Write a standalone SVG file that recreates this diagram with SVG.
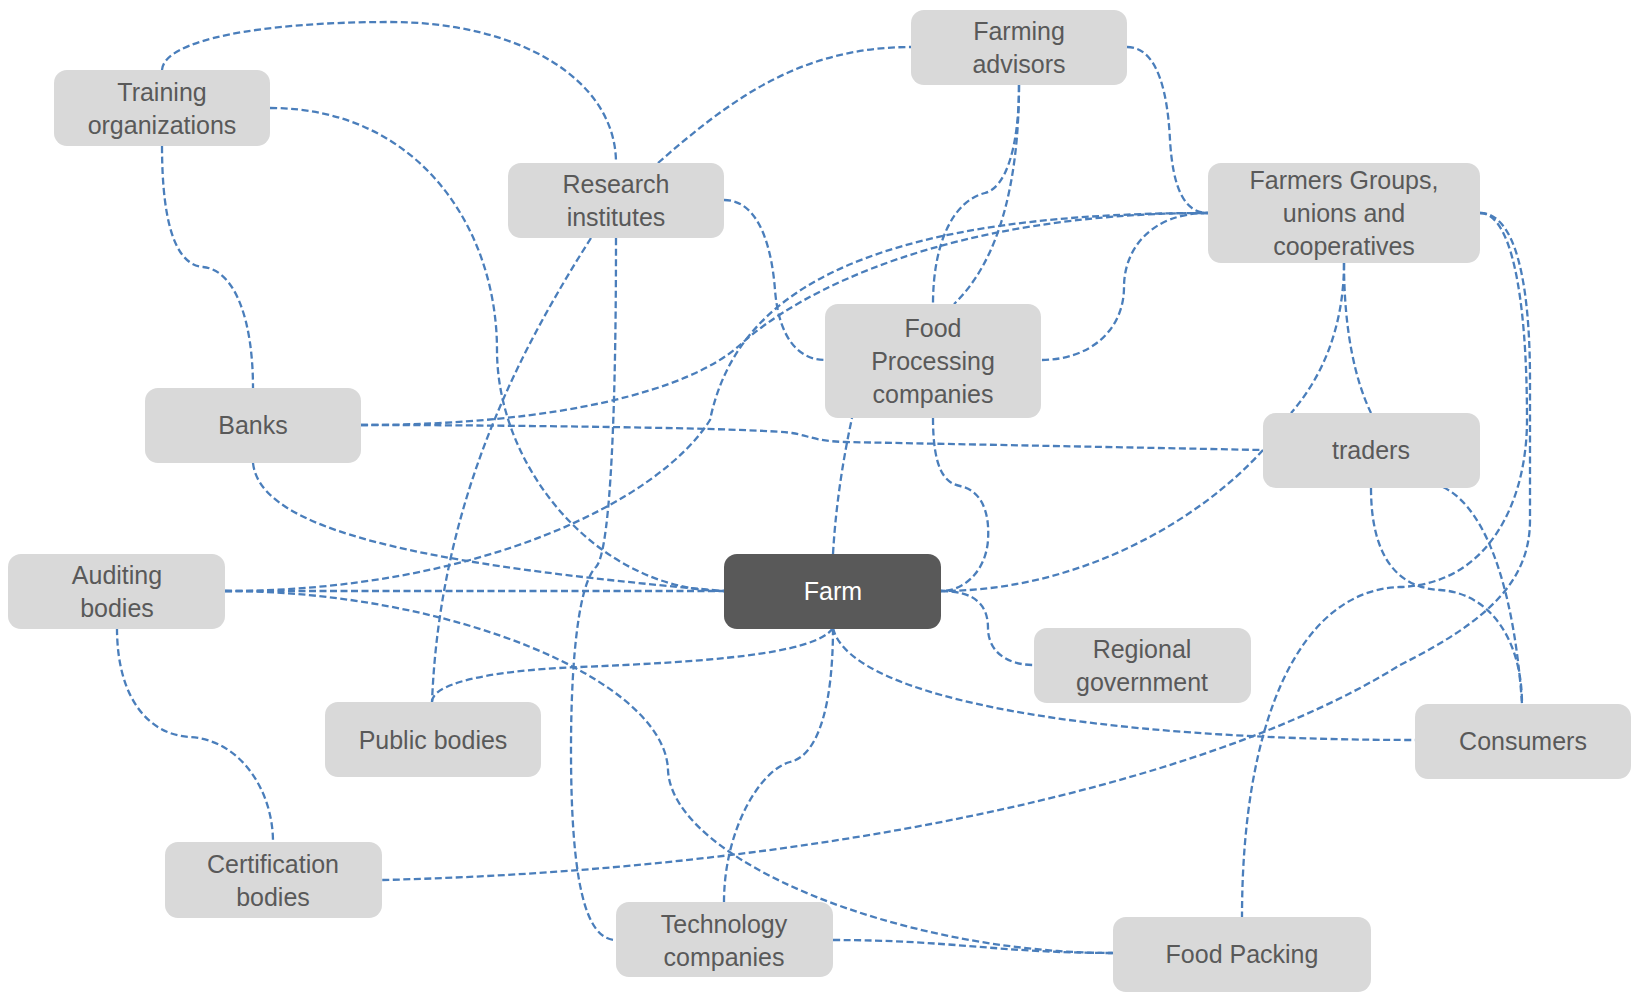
<svg xmlns="http://www.w3.org/2000/svg" width="1631" height="992" viewBox="0 0 1631 992">
<style>
.c{fill:none;stroke:#4a7ebb;stroke-width:2.3;stroke-dasharray:7 3.5}
.n rect{fill:#d9d9d9}
.n text{font-family:"Liberation Sans",Arial,sans-serif;font-size:25px;fill:#595959;text-anchor:middle}
#farm rect{fill:#595959}
#farm text{fill:#ffffff}
</style>
<rect width="1631" height="992" fill="#ffffff"/>
<g id="connectors">
<path class="c" d="M162,70 C164,40 260,22 390,22 C520,22 616,80 616,163"/>
<path class="c" d="M270,108 C420,108 497,230 497,350 C497,470 600,591 724,591"/>
<path class="c" d="M162,146 C162,230 178,265 203,267 C235,270 253,320 253,388"/>
<path class="c" d="M616,238 C616,450 608,555 596,567 C580,582 571,650 571,750 C571,880 585,940 616,940"/>
<path class="c" d="M591,238 C520,350 440,500 432,702"/>
<path class="c" d="M724,200 C760,200 772,250 775,290 C779,340 800,360 825,360"/>
<path class="c" d="M658,163 C730,100 800,47 911,47"/>
<path class="c" d="M1019,85 C1019,150 1005,188 985,193 C955,200 933,240 933,304"/>
<path class="c" d="M1019,85 C1019,180 1000,260 954,304"/>
<path class="c" d="M1127,47 C1160,47 1168,100 1170,140 C1173,190 1185,213 1208,213"/>
<path class="c" d="M361,425 C560,425 690,390 740,345 C800,290 950,213 1208,213"/>
<path class="c" d="M225,591 C480,591 660,500 710,420 C735,300 850,213 1208,213"/>
<path class="c" d="M1208,213 C1150,213 1124,250 1124,287 C1124,330 1090,360 1041,360"/>
<path class="c" d="M1344,263 C1344,330 1320,380 1291,413"/>
<path class="c" d="M1344,263 C1344,330 1355,380 1371,413"/>
<path class="c" d="M1480,213 C1510,213 1527,290 1527,420 C1527,500 1490,584 1400,587 C1300,590 1242,720 1242,917"/>
<path class="c" d="M1480,213 C1515,213 1530,280 1530,380 L1530,520 C1530,580 1490,620 1400,665 C1200,790 800,870 382,880"/>
<path class="c" d="M361,425 C500,425 760,428 792,433 C810,436 815,441 845,442 L1263,450"/>
<path class="c" d="M253,463 C260,530 420,565 724,591"/>
<path class="c" d="M225,591 L724,591"/>
<path class="c" d="M225,591 C450,591 665,680 668,770 C672,860 900,953 1113,953"/>
<path class="c" d="M117,628 C117,700 150,735 190,737 C240,740 273,790 273,842"/>
<path class="c" d="M833,554 C836,500 845,450 852,418"/>
<path class="c" d="M933,418 C933,470 945,483 960,486 C980,490 990,510 988,540 C986,570 965,591 941,591"/>
<path class="c" d="M1263,450 C1200,520 1080,591 941,591"/>
<path class="c" d="M941,591 C975,591 988,605 988,628 C988,650 1005,665 1034,665"/>
<path class="c" d="M833,628 C815,655 700,662 580,667 C480,671 432,685 432,702"/>
<path class="c" d="M833,628 C833,700 820,755 790,762 C760,770 724,830 724,902"/>
<path class="c" d="M833,628 C850,700 1100,740 1415,740"/>
<path class="c" d="M833,940 C950,940 1000,953 1113,953"/>
<path class="c" d="M1371,488 C1371,560 1400,588 1440,590 C1490,593 1522,640 1522,704"/>
<path class="c" d="M1443,487 C1490,510 1515,600 1522,704"/>
</g>
<g id="training" class="n"><rect x="54" y="70" width="216" height="76" rx="13"/><text x="162" y="101">Training</text><text x="162" y="134">organizations</text></g>
<g id="research" class="n"><rect x="508" y="163" width="216" height="75" rx="13"/><text x="616" y="193">Research</text><text x="616" y="226">institutes</text></g>
<g id="farming-advisors" class="n"><rect x="911" y="10" width="216" height="75" rx="13"/><text x="1019" y="40">Farming</text><text x="1019" y="73">advisors</text></g>
<g id="farmers-groups" class="n"><rect x="1208" y="163" width="272" height="100" rx="13"/><text x="1344" y="189">Farmers Groups,</text><text x="1344" y="222">unions and</text><text x="1344" y="255">cooperatives</text></g>
<g id="food-processing" class="n"><rect x="825" y="304" width="216" height="114" rx="13"/><text x="933" y="337">Food</text><text x="933" y="370">Processing</text><text x="933" y="403">companies</text></g>
<g id="banks" class="n"><rect x="145" y="388" width="216" height="75" rx="13"/><text x="253" y="434">Banks</text></g>
<g id="traders" class="n"><rect x="1263" y="413" width="217" height="75" rx="13"/><text x="1371" y="459">traders</text></g>
<g id="auditing" class="n"><rect x="8" y="554" width="217" height="75" rx="13"/><text x="117" y="584">Auditing</text><text x="117" y="617">bodies</text></g>
<g id="farm" class="n"><rect x="724" y="554" width="217" height="75" rx="13"/><text x="833" y="600">Farm</text></g>
<g id="regional" class="n"><rect x="1034" y="628" width="217" height="75" rx="13"/><text x="1142" y="658">Regional</text><text x="1142" y="691">government</text></g>
<g id="public" class="n"><rect x="325" y="702" width="216" height="75" rx="13"/><text x="433" y="749">Public bodies</text></g>
<g id="consumers" class="n"><rect x="1415" y="704" width="216" height="75" rx="13"/><text x="1523" y="750">Consumers</text></g>
<g id="certification" class="n"><rect x="165" y="842" width="217" height="76" rx="13"/><text x="273" y="873">Certification</text><text x="273" y="906">bodies</text></g>
<g id="technology" class="n"><rect x="616" y="902" width="217" height="75" rx="13"/><text x="724" y="933">Technology</text><text x="724" y="966">companies</text></g>
<g id="food-packing" class="n"><rect x="1113" y="917" width="258" height="75" rx="13"/><text x="1242" y="963">Food Packing</text></g>
</svg>
